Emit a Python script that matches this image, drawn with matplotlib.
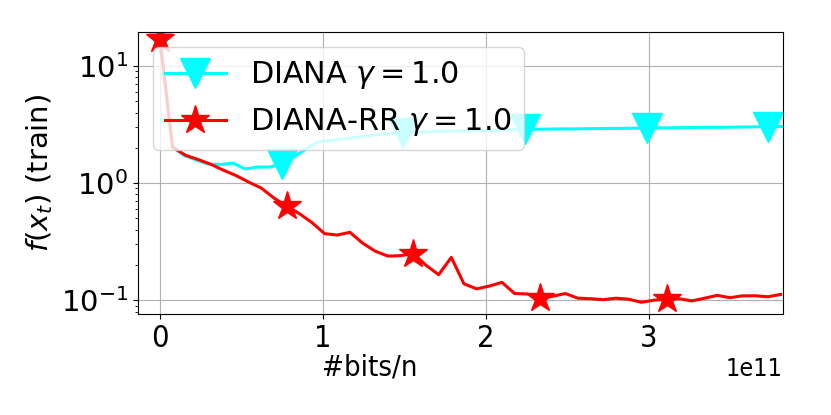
import numpy as np
import matplotlib
matplotlib.use('Agg')
import matplotlib.pyplot as plt

diana_bits_step = 0.07466e11
rr_bits_step = 0.07773e11

diana_loss = [17.0, 2.03, 1.72, 1.57, 1.45, 1.44, 1.48, 1.32, 1.37, 1.37,
              1.45, 1.67, 1.95, 2.24, 2.31, 2.38, 2.45, 2.52, 2.60, 2.65,
              2.70, 2.72, 2.74, 2.76, 2.77, 2.79, 2.80, 2.82, 2.83, 2.85,
              2.87, 2.88, 2.89, 2.90, 2.90, 2.91, 2.92, 2.93, 2.93, 2.94,
              2.95, 2.96, 2.96, 2.97, 2.98, 2.99, 2.99, 3.00, 3.01, 3.02,
              3.03, 3.04, 3.04]

rr_loss = [17.0, 2.03, 1.73, 1.59, 1.45, 1.29, 1.16, 1.02, 0.906, 0.745,
           0.636, 0.549, 0.46, 0.37, 0.36, 0.38, 0.307, 0.262, 0.238, 0.24,
           0.25, 0.199, 0.165, 0.232, 0.138, 0.125, 0.132, 0.142, 0.114, 0.113,
           0.105, 0.108, 0.114, 0.104, 0.103, 0.101, 0.104, 0.102, 0.096, 0.100,
           0.102, 0.103, 0.0986, 0.104, 0.110, 0.105, 0.109, 0.109, 0.107, 0.112]

diana_x = np.arange(len(diana_loss)) * diana_bits_step
rr_x = np.arange(len(rr_loss)) * rr_bits_step

plt.rcParams['font.size'] = 21

fig = plt.figure(figsize=(8.31, 4.15), dpi=100)
ax = fig.add_axes([0.166, 0.243, 0.776, 0.680])

ax.plot(diana_x, diana_loss, color='cyan', lw=2.2, marker='v', markersize=21,
        markevery=10, label=r'DIANA $\gamma = 1.0$')
ax.plot(rr_x, rr_loss, color='red', lw=2.2, marker='*', markersize=21,
        markevery=10, label=r'DIANA-RR $\gamma = 1.0$')

ax.set_yscale('log')
ax.set_xlim(-0.135e11, 3.822e11)
ax.set_ylim(0.076, 19.5)
ax.grid(True)

ax.set_ylabel(r'$f(x_t)$ (train)')
ax.set_xlabel('#bits/n', fontstretch='condensed')
ax.xaxis.set_label_coords(0.36, -0.14)
for lbl in ax.get_xticklabels():
    lbl.set_fontstretch('condensed')
    lbl.set_fontsize(22)
off = ax.xaxis.get_offset_text()
off.set_fontstretch('condensed')
off.set_fontsize(18)

ax.legend(loc='upper left', fontsize=21.8)

plt.savefig('out.png', dpi=100)
